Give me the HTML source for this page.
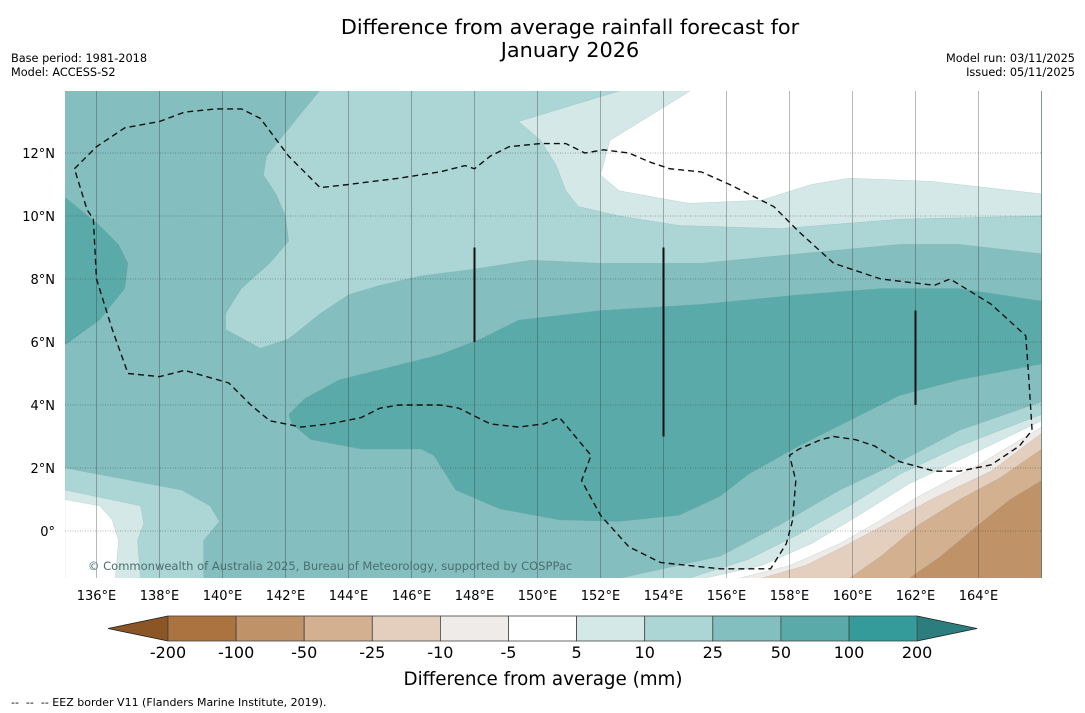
<!DOCTYPE html>
<html><head><meta charset="utf-8"><style>
body{margin:0;background:#fff;width:1085px;height:713px;overflow:hidden;font-family:"DejaVu Sans","Liberation Sans",sans-serif;}
svg{position:absolute;left:0;top:0}
</style></head><body>
<svg id="chart" width="1085" height="713" font-family="DejaVu Sans, Liberation Sans, sans-serif">
<text x="570" y="34" font-size="20.8" text-anchor="middle">Difference from average rainfall forecast for</text>
<text x="570" y="57" font-size="20.8" text-anchor="middle">January 2026</text>
<text x="11" y="62" font-size="11.3">Base period: 1981-2018</text>
<text x="11" y="76" font-size="11.3">Model: ACCESS-S2</text>
<text x="1075" y="62" font-size="11.3" text-anchor="end">Model run: 03/11/2025</text>
<text x="1075" y="76" font-size="11.3" text-anchor="end">Issued: 05/11/2025</text>
<defs><clipPath id="mapclip"><rect x="65" y="91" width="977" height="487"/></clipPath></defs>
<g id="map" clip-path="url(#mapclip)"></g>
<g id="axes"></g>
<g id="cbar"></g>
<text x="543" y="685" font-size="18.3" text-anchor="middle">Difference from average (mm)</text>
<text x="11" y="706" font-size="11" xml:space="preserve">--  --  -- EEZ border V11 (Flanders Marine Institute, 2019).</text>
</svg>
<script>
const lonTicks=[136,138,140,142,144,146,148,150,152,154,156,158,160,162,164];
const latTicks=[0,2,4,6,8,10,12];
const cbLevels=["-200","-100","-50","-25","-10","-5","5","10","25","50","100","200"];
const cbColors=["#ab733f","#bf9268","#d3b090","#e4cfbe","#efebe8","#ffffff","#d4e8e8","#acd5d5","#84bfbf","#5aaaaa","#359a9a"];
const cbLow="#8c5525", cbHigh="#2c7d7d";
const baseColor="#84bebe";
const layerColors=["#acd5d5","#d4e8e8","#ffffff","#5aaaaa","#5aaaaa","#acd5d5","#d4e8e8","#ffffff","#acd5d5","#d4e8e8","#ffffff","#efebe8","#e4cfbe","#d3b090","#bf9268"];
const layerNames=["top-10-25","top-5-10","top-white","left-50-100","central-50-100","left-10-25","left-5-10","left-white","br-10-25","br-5-10","br-white","br-neg5","br-neg10","br-neg25","br-neg50"];
const layerPolys=[
[[143.1,14],[141.8,12.4],[141.4,11.9],[141.3,11.3],[141.7,10.7],[142.0,10.0],[142.1,9.2],[141.5,8.5],[140.6,7.7],[140.1,6.9],[140.1,6.4],[141.2,5.8],[142.1,6.1],[143.1,6.9],[144.0,7.5],[145.0,7.8],[146.3,8.1],[147.9,8.3],[149.8,8.6],[152.0,8.5],[155.2,8.5],[158.3,8.8],[161.5,9.1],[163.4,9.1],[166,8.8],[166,14]],
[[152.7,14],[149.4,13.0],[150.1,12.4],[150.6,11.6],[150.9,10.8],[151.3,10.3],[152.6,10.0],[154.5,9.7],[157.7,9.6],[161.5,9.9],[166,10.0],[166,14]],
[[154.9,14],[153.6,13.2],[152.3,12.4],[152.0,11.3],[152.6,10.8],[154.8,10.4],[157.1,10.5],[158.7,11.0],[159.9,11.2],[162.5,11.1],[166,10.7],[166,14]],
[[135,10.6],[136.1,9.7],[136.7,9.1],[137,8.5],[136.9,7.7],[136.1,6.7],[135,5.9]],
[[142.1,3.7],[142.6,4.2],[143.7,4.8],[145.3,5.2],[146.9,5.6],[148.2,6.1],[149.4,6.7],[152.0,7.0],[155.2,7.2],[158.3,7.5],[160.9,7.7],[163.4,7.7],[166,7.3],[166,5.3],[163.4,4.8],[161.5,4.3],[159.9,3.5],[158.3,2.7],[156.7,1.8],[155.8,1.1],[154.5,0.5],[152.6,0.3],[150.7,0.35],[148.8,0.7],[147.4,1.3],[146.7,2.4],[146.3,2.6],[144.4,2.6],[142.8,2.9],[142.2,3.4]],
[[135,2.0],[138.7,1.3],[139.6,0.8],[139.9,0.3],[139.4,-0.3],[139.4,-1.5],[135,-1.5]],
[[135,1.3],[137.4,0.8],[137.5,0.25],[137.3,-0.3],[137.4,-1.5],[135,-1.5]],
[[135,1.0],[136.1,0.8],[136.5,0.35],[136.7,-0.3],[136.6,-1.5],[135,-1.5]],
[[152.6,-1.5],[155.8,-0.8],[157.7,0.2],[159.6,1.3],[161.5,2.2],[163.4,3.2],[166,4.1],[166,-1.5]],
[[154.8,-1.5],[156.7,-0.9],[158.3,-0.1],[159.9,0.8],[161.5,1.8],[163.4,2.7],[166,3.7],[166,-1.5]],
[[155.3,-1.5],[157.1,-1.1],[158.7,-0.4],[160.2,0.5],[161.8,1.5],[163.7,2.4],[166,3.5],[166,-1.5]],
[[156.4,-1.5],[158,-1.1],[159.6,-0.4],[160.9,0.35],[162.1,1.1],[164,2.1],[166,3.3],[166,-1.5]],
[[157.1,-1.5],[158.5,-1.1],[159.9,-0.4],[161.2,0.3],[162.5,1.0],[164.4,1.9],[166,3.1],[166,-1.5]],
[[159.9,-1.5],[160.9,-0.8],[162.1,0.2],[163.4,1.0],[164.7,1.7],[166,2.6],[166,-1.5]],
[[161.8,-1.5],[162.8,-0.8],[164,0.2],[165,1.0],[166,1.6],[166,-1.5]]
];
const eez=[[135.3,11.5],[136.0,12.2],[136.9,12.8],[138,13.0],[138.8,13.3],[139.8,13.4],[140.6,13.4],[141.2,13.1],[142.1,11.9],[143.1,10.9],[144.0,11.0],[145.6,11.2],[146.9,11.4],[147.7,11.6],[148,11.5],[148.5,11.9],[149.1,12.2],[150.1,12.3],[150.9,12.3],[151.5,12.0],[152.1,12.1],[152.9,12.0],[153.6,11.7],[154.2,11.5],[155.2,11.4],[156.1,11.0],[157.5,10.3],[158.3,9.5],[159.4,8.5],[160.9,8.0],[162.6,7.8],[163.1,8.0],[164.4,7.2],[165.5,6.2],[165.6,4.8],[165.7,3.2],[165.3,2.7],[164.4,2.1],[163.4,1.9],[162.6,1.9],[161.5,2.2],[160.7,2.7],[160.1,2.9],[159.4,3.0],[159,2.9],[158.3,2.6],[158,2.4],[158.2,1.6],[158.1,0.35],[157.9,-0.4],[157.4,-1.2],[155.8,-1.2],[153.9,-1.0],[152.9,-0.5],[152,0.5],[151.4,1.6],[151.7,2.4],[151.2,3.0],[150.7,3.6],[150.2,3.4],[149.4,3.3],[148.5,3.4],[147.5,3.9],[146.9,4.0],[145.6,4.0],[145,3.9],[144.4,3.6],[143.4,3.4],[142.5,3.3],[141.5,3.5],[140.9,4.0],[140.2,4.7],[138.8,5.1],[138,4.9],[137,5.0],[136.5,6.4],[136,8.0],[135.9,9.9],[135.7,10.2],[135.3,11.5]];
const barLons=[148,154,162];
const barTop=[9,9,7];
const barBottom=[6,3,4];

const NS="http://www.w3.org/2000/svg";
const X=lon=>65+(lon-135)*31.5, Y=lat=>531-lat*31.5;
function mk(tag,parent,attrs){const e=document.createElementNS(NS,tag);for(const k in attrs)e.setAttribute(k,attrs[k]);parent.appendChild(e);return e;}
const map=document.getElementById('map'), axes=document.getElementById('axes'), cbar=document.getElementById('cbar');
let r=mk('rect',map,{x:65,y:91,width:977,height:487,fill:baseColor});


layerPolys.forEach((p,i)=>{
  const el=mk('polygon',map,{points:p.map(q=>X(q[0])+','+Y(q[1])).join(' '),fill:layerColors[i],stroke:'#7aa8a8','stroke-width':0.4,'stroke-opacity':0.5});
  
  
});
lonTicks.concat([166]).forEach(l=>{
  const g=mk('line',map,{x1:X(l),x2:X(l),y1:91,y2:578,stroke:'#333','stroke-width':0.7,'stroke-opacity':0.5});
  
  
});
latTicks.forEach(l=>{
  const g=mk('line',map,{x1:65,x2:1042,y1:Y(l),y2:Y(l),stroke:'#333','stroke-width':0.8,'stroke-opacity':0.5,'stroke-dasharray':'1,1.5'});
  
  
});
const ez=mk('polyline',map,{points:eez.map(q=>X(q[0])+','+Y(q[1])).join(' '),fill:'none',stroke:'#111','stroke-width':1.4,'stroke-dasharray':'6,4'});


barLons.forEach((l,i)=>{
  const b=mk('line',map,{x1:X(l),x2:X(l),y1:Y(barTop[i]),y2:Y(barBottom[i]),stroke:'#111','stroke-width':2});
  
  
});
const cp=mk('text',map,{x:88,y:570,'font-size':11.5,fill:'#4d6e6e'});
cp.textContent='© Commonwealth of Australia 2025, Bureau of Meteorology, supported by COSPPac';


lonTicks.forEach(l=>{
  const t=mk('text',axes,{x:X(l),y:600,'font-size':13,'text-anchor':'middle'});
  t.textContent=l+'°E';
  
  
});
latTicks.forEach(l=>{
  const t=mk('text',axes,{x:55,y:Y(l)+5,'font-size':13,'text-anchor':'end'});
  t.textContent=l===0?'0°':l+'°N';
  
  
});
const cx0=168,cw=68.1,cy=616,ch=25;
let tl=mk('polygon',cbar,{points:`108,${cy+ch/2} ${cx0},${cy} ${cx0},${cy+ch}`,fill:cbLow,stroke:'#222','stroke-width':0.8});


const xEnd=cx0+cw*cbColors.length;
let tr=mk('polygon',cbar,{points:`${xEnd},${cy} ${xEnd+60},${cy+ch/2} ${xEnd},${cy+ch}`,fill:cbHigh,stroke:'#222','stroke-width':0.8});


cbColors.forEach((c,i)=>{
  const b=mk('rect',cbar,{x:cx0+cw*i,y:cy,width:cw,height:ch,fill:c,stroke:'#444','stroke-width':0.8});
  
  
});
cbLevels.forEach((s,i)=>{
  const t=mk('text',cbar,{x:cx0+cw*i,y:658,'font-size':16,'text-anchor':'middle'});
  t.textContent=s;
  
  
});
</script>
</body></html>
